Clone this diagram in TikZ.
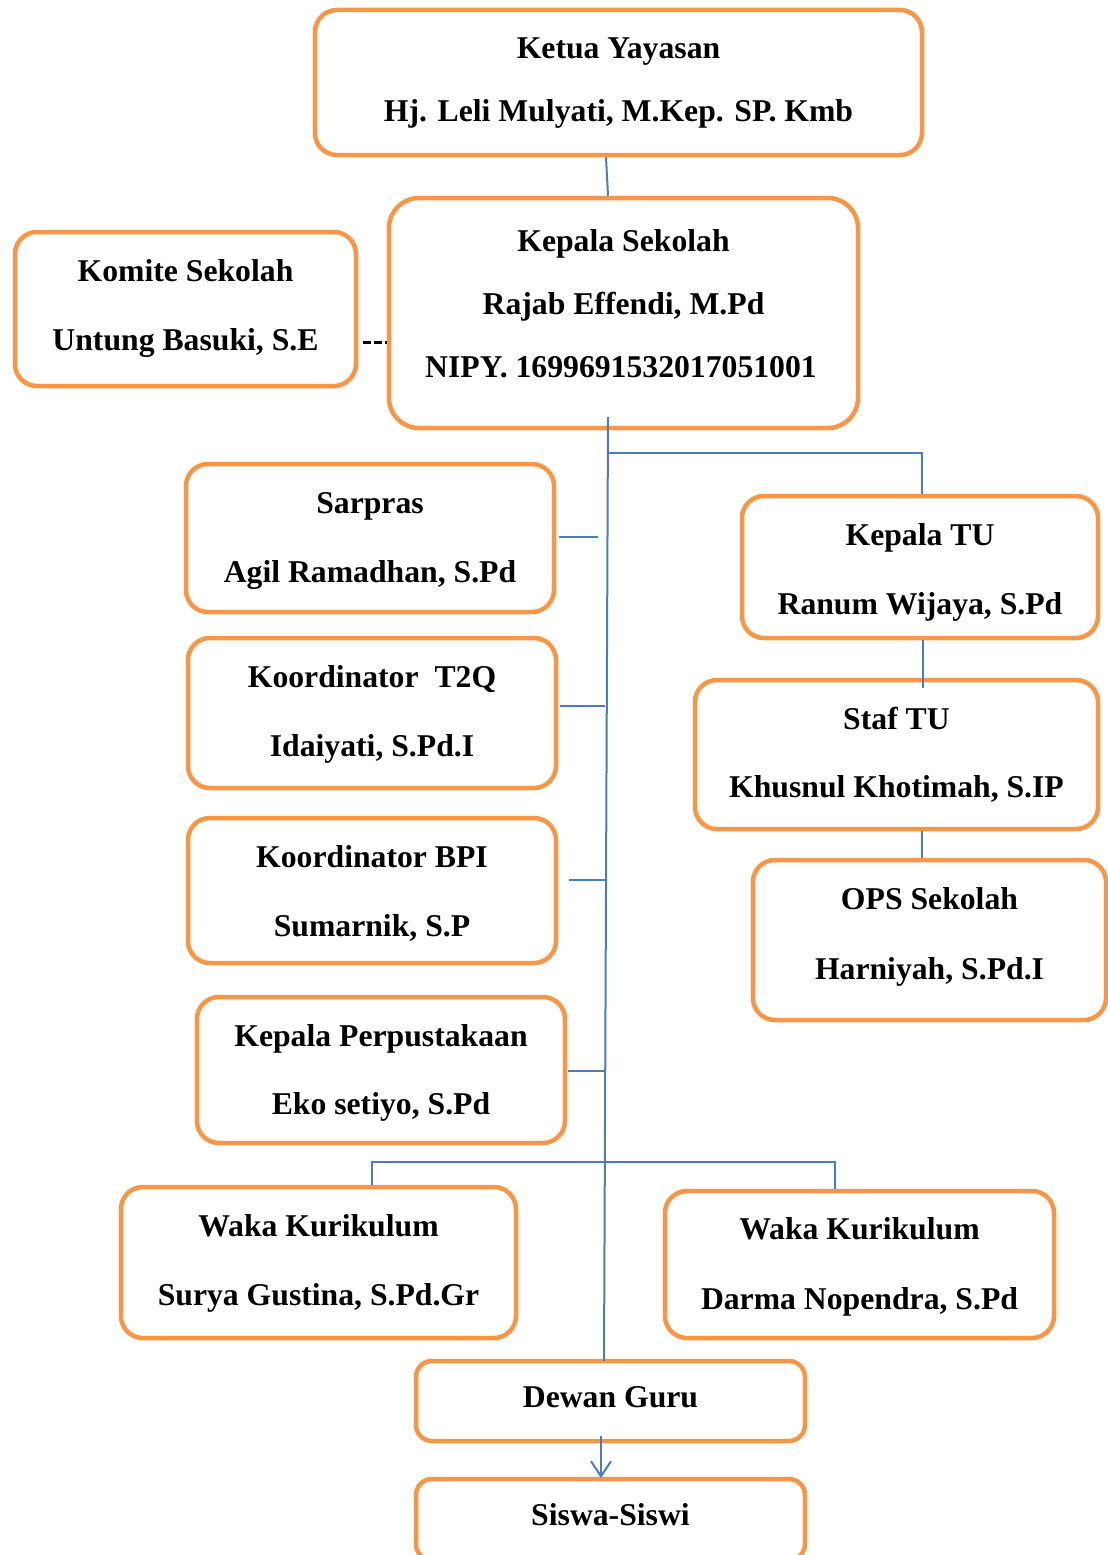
\documentclass[tikz,border=0pt]{standalone}
\usepackage{fontspec}
\setmainfont{Liberation Serif}
\usetikzlibrary{arrows.meta}
\definecolor{boxor}{HTML}{F79646}
\definecolor{lnblue}{HTML}{4A7EBB}
\begin{document}
\begin{tikzpicture}[x=1pt,y=-1pt,
  box/.style={draw=boxor,line width=4.5pt,rounded corners=22pt,inner sep=0pt,fill=white},
  txt/.style={anchor=base,inner sep=0pt,font=\bfseries\fontsize{31.7}{38}\selectfont},
  conn/.style={draw=lnblue,line width=2pt},
  dashconn/.style={draw=black,line width=3pt,dash pattern=on 8pt off 3pt}]
\useasboundingbox (0,0) rectangle (1108,1555);
% boxes
\node[box,minimum width=607,minimum height=145] (ketua) at (618.5,82.5) {};
\node[box,rounded corners=30pt,minimum width=469,minimum height=230] (kepala) at (623.5,313) {};
\node[box,minimum width=341,minimum height=154] (komite) at (185.5,309) {};
\node[box,minimum width=368,minimum height=148] (sarpras) at (370,538) {};
\node[box,minimum width=368,minimum height=150] (t2q) at (372,713) {};
\node[box,minimum width=368,minimum height=145] (bpi) at (372,890.5) {};
\node[box,minimum width=368,minimum height=146] (perpus) at (381,1070) {};
\node[box,minimum width=356,minimum height=142] (katu) at (920,567) {};
\node[box,minimum width=403,minimum height=149] (staftu) at (896.5,754.5) {};
\node[box,minimum width=353,minimum height=160] (ops) at (929.5,940) {};
\node[box,minimum width=395,minimum height=151] (wakaL) at (318.5,1262.5) {};
\node[box,minimum width=389,minimum height=147] (wakaR) at (859.5,1264.5) {};
\node[box,minimum width=389,minimum height=80,rounded corners=16pt] (dewan) at (610.5,1401) {};
\node[box,minimum width=389,minimum height=81,rounded corners=16pt] (siswa) at (610.5,1519.5) {};
% texts
\node[txt] (ketua1) at (618.5,58.5) {Ketua Yayasan};
\node[txt] (ketua2) at (618.5,121.5) {Hj. Leli Mulyati, M.Kep. SP. Kmb};
\node[txt] (kepala1) at (623.5,251.5) {Kepala Sekolah};
\node[txt] (kepala2) at (623.5,314.5) {Rajab Effendi, M.Pd};
\node[txt] (kepala3) at (621,377.5) {NIPY. 1699691532017051001};
\node[txt] (komite1) at (185.5,281.5) {Komite Sekolah};
\node[txt] (komite2) at (185.5,350.5) {Untung Basuki, S.E};
\node[txt] (sarpras1) at (370,513.5) {Sarpras};
\node[txt] (sarpras2) at (370,582.5) {Agil Ramadhan, S.Pd};
\node[txt] (t2q1) at (372,687.5) {Koordinator\ \ T2Q};
\node[txt] (t2q2) at (372,756.5) {Idaiyati, S.Pd.I};
\node[txt] (bpi1) at (372,867.5) {Koordinator BPI};
\node[txt] (bpi2) at (372,936.5) {Sumarnik, S.P};
\node[txt] (perpus1) at (381,1046.5) {Kepala Perpustakaan};
\node[txt] (perpus2) at (381,1114.5) {Eko setiyo, S.Pd};
\node[txt] (katu1) at (920,545.5) {Kepala TU};
\node[txt] (katu2) at (920,614.5) {Ranum Wijaya, S.Pd};
\node[txt] (staftu1) at (896.5,729.5) {Staf TU};
\node[txt] (staftu2) at (896.5,797.5) {Khusnul Khotimah, S.IP};
\node[txt] (ops1) at (929.5,909.5) {OPS Sekolah};
\node[txt] (ops2) at (929.5,979.5) {Harniyah, S.Pd.I};
\node[txt] (wakaL1) at (318.5,1236.5) {Waka Kurikulum};
\node[txt] (wakaL2) at (318.5,1305.5) {Surya Gustina, S.Pd.Gr};
\node[txt] (wakaR1) at (859.5,1239.5) {Waka Kurikulum};
\node[txt] (wakaR2) at (859.5,1309.5) {Darma Nopendra, S.Pd};
\node[txt] (dewan1) at (610.5,1407.5) {Dewan Guru};
\node[txt] (siswa1) at (610.5,1525.5) {Siswa-Siswi};
% connector coordinates
\coordinate (vtop) at (608,417);
\coordinate (vbot) at (604,1361);
\coordinate (jtu) at (608,453);
\coordinate (s1) at (598,537);
\coordinate (s2) at (605,706);
\coordinate (s3) at (606,880);
\coordinate (s4) at (605,1071);
\coordinate (jw) at (605,1162);
\coordinate (arrtop) at (601,1436);
\coordinate (arrbot) at (601,1478);
% connectors
\draw[conn] ([xshift=-12.5pt]ketua.south) -- ([xshift=-15.5pt]kepala.north);
\draw[dashconn] (363,342) coordinate (d1) -- (kepala.west |- d1);
\draw[conn] (vtop) -- (vbot);
\draw[conn] (jtu) -| ([xshift=2pt]katu.north);
\draw[conn] ([xshift=3pt]sarpras.east |- s1) -- (s1);
\draw[conn] ([xshift=2pt]t2q.east |- s2) -- (s2);
\draw[conn] ([xshift=11pt]bpi.east |- s3) -- (s3);
\draw[conn] ([xshift=1pt]perpus.east |- s4) -- (s4);
\draw[conn] ([xshift=3pt]katu.south) -- ([xshift=26.5pt,yshift=-10pt]staftu.north);
\draw[conn] ([xshift=25.5pt]staftu.south) -- ([xshift=-7.5pt]ops.north);
\draw[conn] ([xshift=53.5pt]wakaL.north) |- (jw) -| ([xshift=-24.5pt]wakaR.north);
\draw[conn,-{Straight Barb[length=15pt,width=20pt]}] (arrtop) -- (arrbot);
\end{tikzpicture}
\end{document}
